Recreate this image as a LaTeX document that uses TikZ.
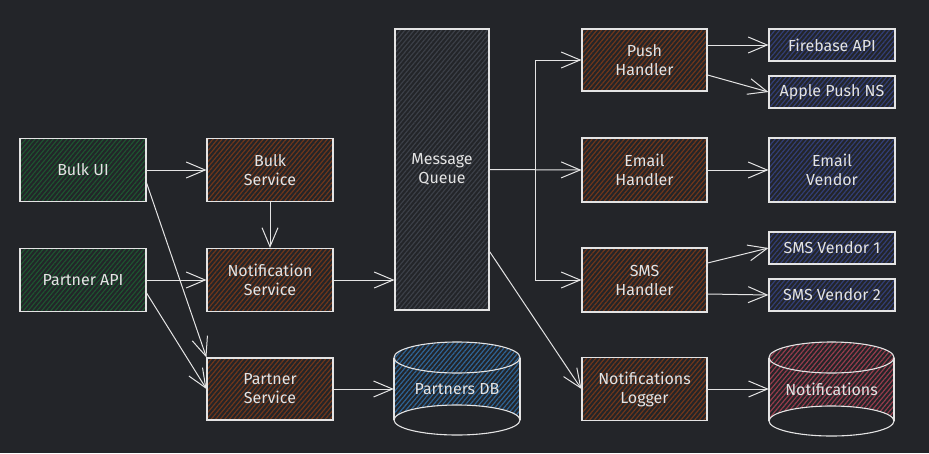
\documentclass[tikz,border=0pt]{standalone}
\usepackage{fontspec}
\setmainfont{Fira Sans}
\usetikzlibrary{arrows.meta,patterns.meta}
\definecolor{bg}{RGB}{35,37,41}
\definecolor{ink}{RGB}{228,228,228}
\definecolor{cgreen}{RGB}{30,84,48}
\definecolor{cbrown}{RGB}{112,54,26}
\definecolor{cvendor}{RGB}{50,62,118}
\definecolor{cqueue}{RGB}{60,64,72}
\definecolor{cdbblue}{RGB}{46,100,150}
\definecolor{cdbred}{RGB}{150,60,76}
\tikzset{
  hatch/.style={preaction={fill=bg},pattern={Lines[angle=50,distance=3.5pt,line width=1.2pt]},pattern color=#1},
  box/.style={draw=ink,line width=1.1pt,rectangle,inner sep=0pt,align=center,text=ink,
     font=\fontsize{16}{19}\selectfont,hatch=#1},
  dbnode/.style={inner sep=0pt,minimum width=126pt,minimum height=93pt,text=ink,font=\fontsize{16}{19}\selectfont},
  conn/.style={draw=ink,line width=1pt,-{Straight Barb[length=19pt,width=16pt,line width=1pt]}},
}
\begin{document}
\begin{tikzpicture}[x=1pt,y=-1pt]
\fill[bg] (0,0) rectangle (929,453);
\useasboundingbox (0,0) rectangle (929,453);
% left
\node[box=cgreen,minimum width=126pt,minimum height=63pt] (bulkui) at (83,170) {Bulk UI};
\node[box=cgreen,minimum width=126pt,minimum height=63pt] (partnerapi) at (83,280) {Partner API};
\node[box=cbrown,minimum width=126pt,minimum height=63pt] (bulksvc) at (270,170) {Bulk\\Service};
\node[box=cbrown,minimum width=126pt,minimum height=63pt] (notifsvc) at (270,280) {Notification\\Service};
\node[box=cbrown,minimum width=126pt,minimum height=62pt] (partnersvc) at (270,389) {Partner\\Service};
% queue
\node[box=cqueue,minimum width=94pt,minimum height=281pt] (mq) at (442,169.5) {Message\\Queue};
% handlers
\node[box=cbrown,minimum width=125pt,minimum height=62pt] (push) at (644.5,60) {Push\\Handler};
\node[box=cbrown,minimum width=125pt,minimum height=64pt] (email) at (644.5,170) {Email\\Handler};
\node[box=cbrown,minimum width=125pt,minimum height=64pt] (sms) at (644.5,280) {SMS\\Handler};
\node[box=cbrown,minimum width=125pt,minimum height=63pt] (logger) at (644.5,389) {Notifications\\Logger};
% vendors
\node[box=cvendor,minimum width=126pt,minimum height=32pt] (firebase) at (832,45) {Firebase API};
\node[box=cvendor,minimum width=126pt,minimum height=32pt] (apple) at (832,92) {Apple Push NS};
\node[box=cvendor,minimum width=126pt,minimum height=64pt] (emailv) at (832,170) {Email\\Vendor};
\node[box=cvendor,minimum width=126pt,minimum height=32pt] (sms1) at (832,248) {SMS Vendor 1};
\node[box=cvendor,minimum width=126pt,minimum height=32pt] (sms2) at (832,295) {SMS Vendor 2};
% databases
\path[hatch=cdbblue] (394,357.5) arc[start angle=180,end angle=360,x radius=63,y radius=15.5]
  -- (520,420) arc[start angle=0,end angle=-180,x radius=63,y radius=15] -- cycle;
\path[hatch=cdbblue] (457,357.5) ellipse[x radius=63,y radius=15.5];
\draw[ink,line width=1.1pt] (457,357.5) ellipse[x radius=63,y radius=15.5];
\draw[ink,line width=1.1pt] (457,420) ellipse[x radius=63,y radius=15];
\draw[ink,line width=1.1pt] (394,357.5) -- (394,420) (520,357.5) -- (520,420);
\node[dbnode] (partnersdb) at (457,389) {Partners DB};
\path[hatch=cdbred] (769,357.5) arc[start angle=180,end angle=360,x radius=62.5,y radius=15.5]
  -- (894,421) arc[start angle=0,end angle=-180,x radius=62.5,y radius=15] -- cycle;
\path[hatch=cdbred] (831.5,357.5) ellipse[x radius=62.5,y radius=15.5];
\draw[ink,line width=1.1pt] (831.5,357.5) ellipse[x radius=62.5,y radius=15.5];
\draw[ink,line width=1.1pt] (831.5,421) ellipse[x radius=62.5,y radius=15];
\draw[ink,line width=1.1pt] (769,357.5) -- (769,421) (894,357.5) -- (894,421);
\node[dbnode,minimum width=125pt] (notifdb) at (831.5,389) {Notifications};
% connectors
\draw[conn] (bulkui.east) -- (bulksvc.west);
\draw[conn] (bulksvc.south) -- (notifsvc.north);
\draw[conn] (partnerapi.east) -- (notifsvc.west);
\draw[conn] ([yshift=-13pt]bulkui.east) -- (partnersvc.north west);
\draw[conn] ([yshift=-13pt]partnerapi.east) -- (partnersvc.west);
\draw[conn] (notifsvc.east) -- (notifsvc.east -| mq.west);
\draw[conn] (partnersvc.east) -- (partnersdb.west);
\coordinate (j) at (535,170);
\draw[conn] (mq.east) -- (email.west);
\draw[conn] (j) |- (push.west);
\draw[conn] (j) |- (sms.west);
\draw[conn] ([yshift=-82pt]mq.east) -- (logger.west);
\draw[conn] ([yshift=15pt]push.east) -- (firebase.west);
\draw[conn] ([yshift=-15pt]push.east) -- (apple.west);
\draw[conn] (email.east) -- (emailv.west);
\draw[conn] ([yshift=17pt]sms.east) -- (sms1.west);
\draw[conn] ([yshift=-14pt]sms.east) -- (sms2.west);
\draw[conn] (logger.east) -- (notifdb.west);
\end{tikzpicture}
\end{document}
